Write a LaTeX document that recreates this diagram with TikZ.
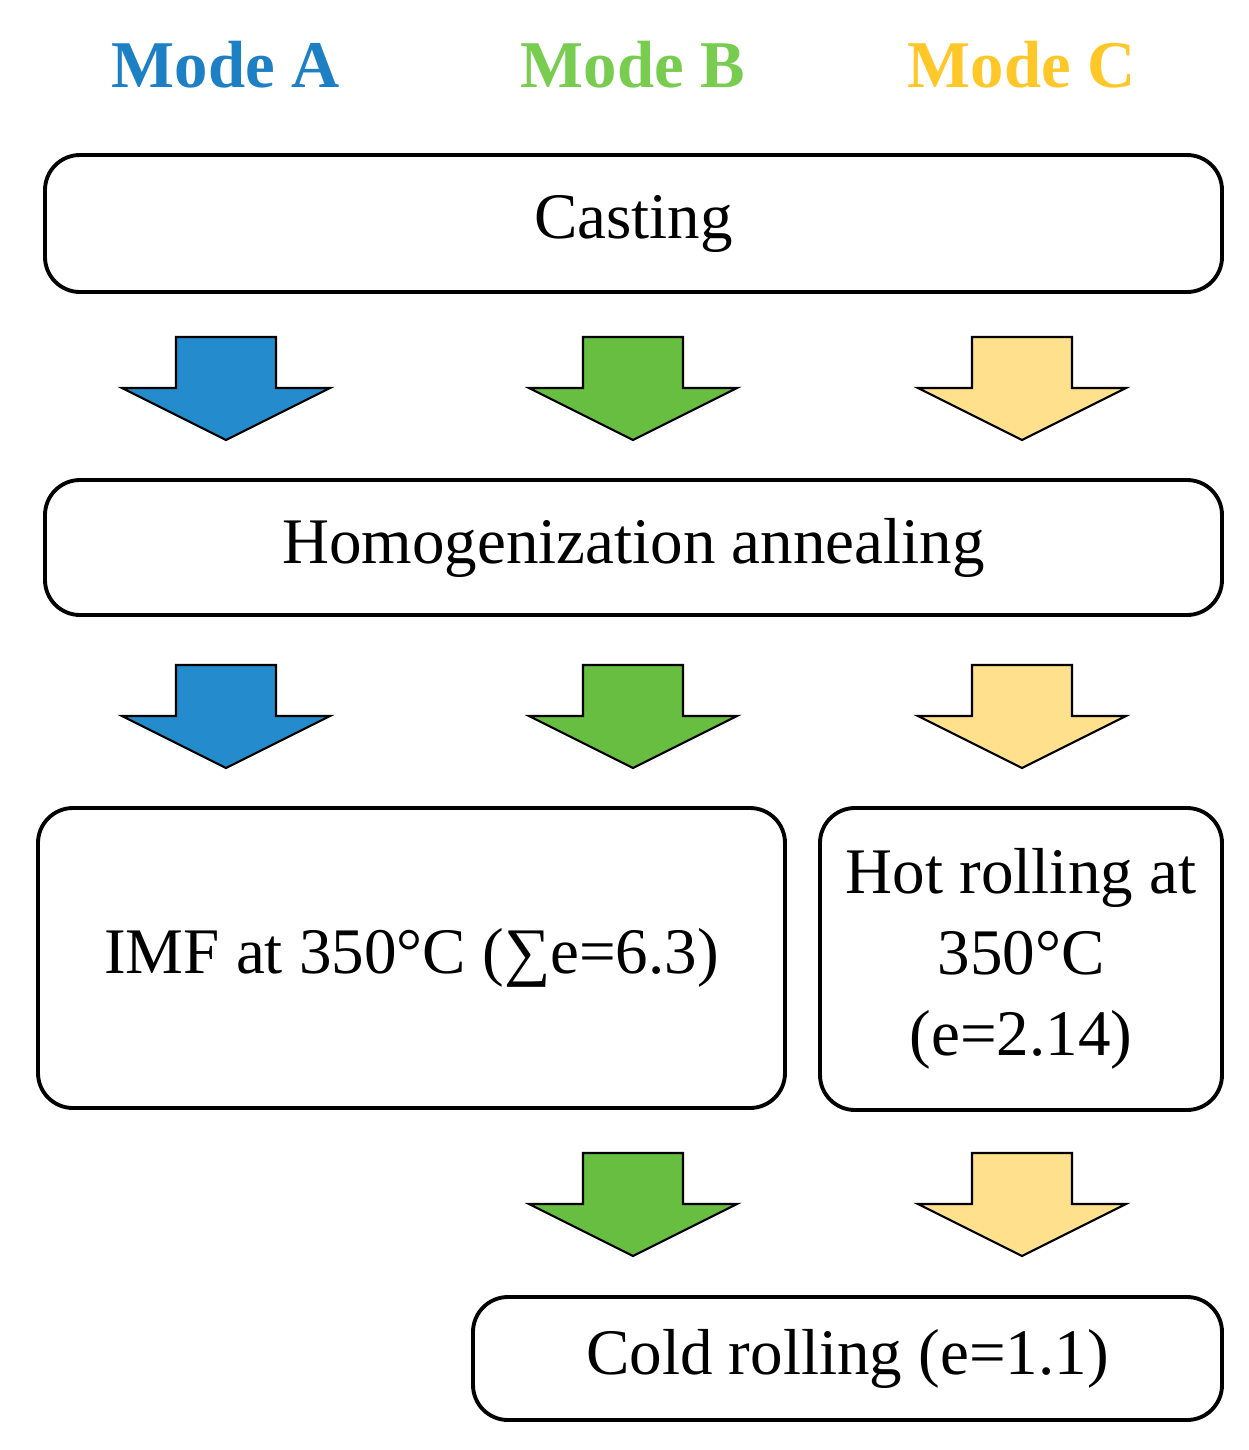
\documentclass[tikz,border=0pt]{standalone}
\usepackage{fontspec}
\setmainfont{Liberation Serif}
\usetikzlibrary{positioning,calc}
\definecolor{modeA}{RGB}{30,128,196}
\definecolor{modeB}{RGB}{120,204,80}
\definecolor{modeC}{RGB}{255,200,40}
\definecolor{fillA}{RGB}{36,140,205}
\definecolor{fillB}{RGB}{104,190,64}
\definecolor{fillC}{RGB}{255,224,140}
\tikzset{
  procbox/.style={draw, line width=2.2pt, rounded corners=0.7cm, inner sep=0pt, font=\fontsize{37}{46}\selectfont, align=center},
  mode/.style={font=\bfseries\fontsize{38}{44}\selectfont},
  blk/.style={draw, line width=1.2pt, fill=#1},
}
% block arrow: x centre, top y, fill
\newcommand{\blkarrow}[3]{
  \draw[blk=#3] (#1-1.0,#2) -- (#1+1.0,#2) -- (#1+1.0,#2-1.02) -- (#1+2.08,#2-1.02)
    -- (#1,#2-2.06) -- (#1-2.08,#2-1.02) -- (#1-1.0,#2-1.02) -- cycle;
}
\begin{document}
\begin{tikzpicture}
\useasboundingbox (0,0) rectangle (24.96,-29);

\node[mode, text=modeA] (mA) at (4.52,-1.3) {Mode A};
\node[mode, text=modeB] (mB) at (12.66,-1.3) {Mode B};
\node[mode, text=modeC] (mC) at (20.44,-1.3) {Mode C};

\node[procbox, minimum width=23.54cm, minimum height=2.74cm] (cast) at (12.67,-4.47) {Casting};
\node[procbox, minimum width=23.54cm, minimum height=2.7cm] (homog) at (12.67,-10.95) {Homogenization annealing};
\node[procbox, minimum width=14.94cm, minimum height=6cm] (imf) at (8.23,-19.16) {IMF at 350°C (∑e=6.3)};
\node[procbox, minimum width=8.04cm, minimum height=6.04cm, font=\fontsize{37}{46}\selectfont] (hot) at (20.42,-19.18) {Hot rolling at\\350°C\\(e=2.14)};
\node[procbox, minimum width=14.98cm, minimum height=2.46cm] (cold) at (16.95,-27.17) {Cold rolling (e=1.1)};

\blkarrow{4.52}{-6.74}{fillA}
\blkarrow{12.66}{-6.74}{fillB}
\blkarrow{20.44}{-6.74}{fillC}
\blkarrow{4.52}{-13.3}{fillA}
\blkarrow{12.66}{-13.3}{fillB}
\blkarrow{20.44}{-13.3}{fillC}
\blkarrow{12.66}{-23.06}{fillB}
\blkarrow{20.44}{-23.06}{fillC}
\end{tikzpicture}
\end{document}
